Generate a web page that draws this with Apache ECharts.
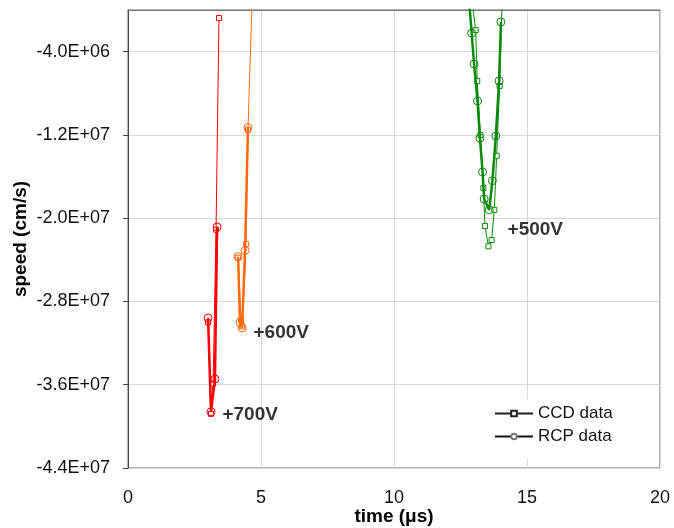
<!DOCTYPE html>
<html>
<head>
<meta charset="utf-8">
<script src="https://cdn.jsdelivr.net/npm/echarts@6/dist/echarts.min.js"></script>
<style>
  html, body { margin: 0; padding: 0; background: #fff; }
  #chart { width: 674px; height: 528px; }
</style>
</head>
<body>
<div id="chart"></div>
<script>
// time in microseconds, speed in cm/s
var t700ccd = [3.01, 3.12, 3.20, 3.31, 3.42];
var v700ccd = [-3.0e7, -3.88e7, -3.59e7, -2.11e7, -7.7e5];
var t700rcp = [3.01, 3.12, 3.27, 3.35];
var v700rcp = [-2.96e7, -3.86e7, -3.545e7, -2.085e7];

var t600ccd = [4.14, 4.25, 4.29, 4.44, 4.51, 4.66];
var v600ccd = [-2.38e7, -2.98e7, -3.04e7, -2.25e7, -1.15e7, 4.8e5];
var t600rcp = [4.14, 4.21, 4.29, 4.40, 4.51];
var v600rcp = [-2.37e7, -3.0e7, -3.055e7, -2.31e7, -1.13e7];

var t500ccd = [12.93, 13.07, 13.13, 13.25, 13.36, 13.42, 13.55, 13.67, 13.77, 13.86, 13.97, 14.06];
var v500ccd = [9.6e5, -1.92e6, -6.82e6, -1.2e7, -1.71e7, -2.075e7, -2.27e7, -2.21e7, -1.92e7, -1.40e7, -7.3e6, 4.8e5];
var t500rcp = [12.82, 12.92, 13.01, 13.14, 13.23, 13.33, 13.39, 13.58, 13.70, 13.83, 13.95, 14.02];
var v500rcp = [9.6e5, -2.21e6, -5.19e6, -8.74e6, -1.23e7, -1.556e7, -1.816e7, -1.92e7, -1.64e7, -1.21e7, -6.82e6, -1.15e6];

var voltLabels = ['+700V', '+600V', '+500V'];
var voltT = [3.53, 4.70, 14.25];
var voltV = [-3.89e7, -3.10e7, -2.11e7];

var colors = {'700': '#ff0000', '600': '#ff6a10', '500': '#0a8a0a'};

function pairs(ts, vs) {
  var out = [];
  for (var i = 0; i < ts.length; i++) out.push([ts[i], vs[i]]);
  return out;
}

function sciLabel(v) {
  if (v === 0) return '';
  var s = v.toExponential(1).toUpperCase(); // e.g. -4.0E+6
  var parts = s.split('E');
  var exp = parts[1];
  var sign = exp.charAt(0);
  var digits = exp.slice(1);
  if (digits.length < 2) digits = '0' + digits;
  return parts[0] + 'E' + sign + digits;
}

function ccdSeries(name, data, color) {
  return {
    name: name, type: 'line', data: data, clip: true,
    symbol: 'rect', symbolSize: 5, showAllSymbol: true,
    lineStyle: {color: color, width: 1},
    itemStyle: {color: '#fff', borderColor: color, borderWidth: 1},
    z: 3
  };
}
function rcpSeries(name, data, color) {
  return {
    name: name, type: 'line', data: data, clip: true,
    symbol: 'circle', symbolSize: 8, showAllSymbol: true,
    lineStyle: {color: color, width: 2.5},
    itemStyle: {color: 'rgba(255,255,255,0)', borderColor: color, borderWidth: 1},
    z: 4
  };
}

var labelData = [];
for (var i = 0; i < voltLabels.length; i++) labelData.push([voltT[i], voltV[i], voltLabels[i]]);

var font = 'Liberation Sans, Arial';
var chart = echarts.init(document.getElementById('chart'));
var option = {
  backgroundColor: '#fff',
  animation: false,
  grid: {
    left: 128, right: 14, top: 10, bottom: 60,
    outerBoundsMode: 'none', containLabel: false,
    show: true, borderColor: '#666', borderWidth: 1, backgroundColor: 'transparent'
  },
  legend: {
    data: ['CCD data', 'RCP data'],
    orient: 'vertical',
    left: 488, top: 399,
    itemWidth: 38, itemHeight: 7, itemGap: 6,
    backgroundColor: '#fff',
    padding: [6, 6, 14, 6],
    textStyle: {fontFamily: font, fontSize: 17, color: '#111'}
  },
  xAxis: {
    type: 'value', min: 0, max: 20, interval: 5,
    name: 'time (μs)', nameLocation: 'middle', nameGap: 39, nameMoveOverlap: false,
    nameTextStyle: {fontFamily: font, fontSize: 19, fontWeight: 'bold', color: '#000'},
    axisLine: {show: true, lineStyle: {color: '#777'}},
    axisTick: {show: false},
    axisLabel: {margin: 21, fontFamily: font, fontSize: 18, color: '#111'},
    splitLine: {show: true, lineStyle: {color: '#d8d8d8'}}
  },
  yAxis: {
    type: 'value', min: -4.4e7, max: 0, interval: 8e6,
    name: 'speed (cm/s)', nameLocation: 'middle', nameGap: 98, nameRotate: 90, nameMoveOverlap: false,
    nameTextStyle: {fontFamily: font, fontSize: 19, fontWeight: 'bold', color: '#000'},
    axisLine: {show: true, lineStyle: {color: '#444'}},
    axisTick: {show: true, length: 5, lineStyle: {color: '#444'}},
    axisLabel: {
      margin: 18, showMaxLabel: false,
      fontFamily: font, fontSize: 18, color: '#111',
      formatter: sciLabel
    },
    splitLine: {show: true, lineStyle: {color: '#d8d8d8'}}
  },
  series: [
    ccdSeries('ccd700', pairs(t700ccd, v700ccd), colors['700']),
    rcpSeries('rcp700', pairs(t700rcp, v700rcp), colors['700']),
    ccdSeries('ccd600', pairs(t600ccd, v600ccd), colors['600']),
    rcpSeries('rcp600', pairs(t600rcp, v600rcp), colors['600']),
    ccdSeries('ccd500', pairs(t500ccd, v500ccd), colors['500']),
    rcpSeries('rcp500', pairs(t500rcp, v500rcp), colors['500']),
    // legend-only entries
    {
      name: 'CCD data', type: 'line', data: [],
      symbol: 'rect', symbolSize: 6,
      lineStyle: {color: '#222', width: 1},
      itemStyle: {color: '#fff', borderColor: '#222', borderWidth: 1}
    },
    {
      name: 'RCP data', type: 'line', data: [],
      symbol: 'circle', symbolSize: 8,
      lineStyle: {color: '#111', width: 2.5},
      itemStyle: {color: '#fff', borderColor: '#777', borderWidth: 1}
    },
    {
      name: 'labels', type: 'scatter', data: labelData,
      symbolSize: 1, itemStyle: {color: 'rgba(0,0,0,0)'},
      label: {
        show: true, position: 'right', distance: 0,
        formatter: function (p) { return p.value[2]; },
        fontFamily: font, fontSize: 19, fontWeight: 'bold', color: '#000'
      },
      z: 5
    }
  ]
};
chart.setOption(option);
</script>
</body>
</html>
